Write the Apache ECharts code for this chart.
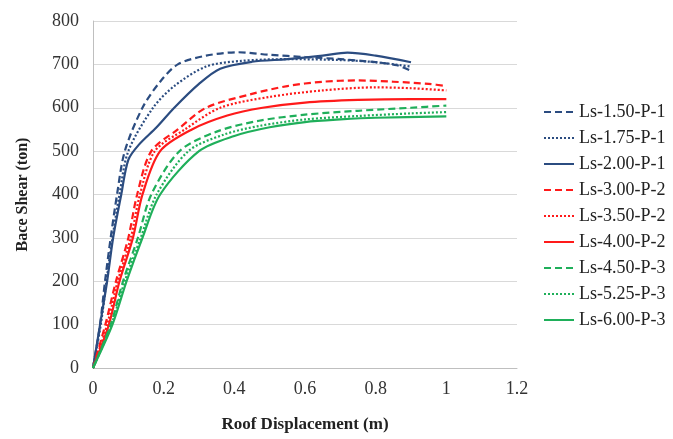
<!DOCTYPE html>
<html><head><meta charset="utf-8">
<script src="https://cdn.jsdelivr.net/npm/echarts@6/dist/echarts.min.js"></script>
<style>html,body{margin:0;padding:0;background:#fff}#c{width:673px;height:439px}</style>
</head><body><div id="c"></div>
<script>
const names = ["Ls-1.50-P-1","Ls-1.75-P-1","Ls-2.00-P-1","Ls-3.00-P-2","Ls-3.50-P-2","Ls-4.00-P-2","Ls-4.50-P-3","Ls-5.25-P-3","Ls-6.00-P-3"];
const xTicks = [0,0.2,0.4,0.6,0.8,1,1.2];
const yTicks = [0,100,200,300,400,500,600,700,800];

const ls150 = [[0,0],[0.02,100],[0.034,200],[0.05,300],[0.068,400],[0.09,500],[0.14,600],[0.19,660],[0.24,700],[0.32,720],[0.41,728],[0.5,722],[0.6,717],[0.7,712],[0.8,705],[0.86,698],[0.9,685]];
const ls175 = [[0,0],[0.022,100],[0.038,200],[0.055,300],[0.075,400],[0.1,500],[0.17,600],[0.23,650],[0.32,695],[0.42,708],[0.55,712],[0.7,710],[0.8,705],[0.9,695]];
const ls200 = [[0,0],[0.02,100],[0.04,200],[0.057,300],[0.08,400],[0.1,480],[0.13,515],[0.18,555],[0.23,600],[0.3,655],[0.36,690],[0.45,706],[0.55,712],[0.65,720],[0.72,727],[0.8,720],[0.9,705]];
const ls300 = [[0,0],[0.035,100],[0.065,200],[0.1,300],[0.125,400],[0.165,500],[0.24,550],[0.32,600],[0.45,632],[0.55,650],[0.65,660],[0.75,663],[0.85,660],[0.95,655],[1.0,650]];
const ls350 = [[0,0],[0.04,100],[0.07,200],[0.107,300],[0.133,400],[0.175,500],[0.26,550],[0.36,600],[0.5,625],[0.65,640],[0.8,647],[0.9,645],[1.0,640]];
const ls400 = [[0,0],[0.045,100],[0.075,200],[0.113,300],[0.14,400],[0.19,500],[0.28,550],[0.38,582],[0.48,600],[0.6,612],[0.75,618],[0.9,620],[1.0,620]];
const ls450 = [[0,0],[0.05,100],[0.085,200],[0.127,300],[0.165,400],[0.245,500],[0.35,545],[0.47,570],[0.6,584],[0.75,593],[0.9,600],[1.0,605]];
const ls525 = [[0,0],[0.052,100],[0.09,200],[0.135,300],[0.18,400],[0.27,500],[0.37,538],[0.47,558],[0.6,573],[0.75,581],[0.9,587],[1.0,590]];
const ls600 = [[0,0],[0.055,100],[0.095,200],[0.14,300],[0.19,400],[0.3,500],[0.4,535],[0.5,555],[0.6,567],[0.7,573],[0.8,577],[1.0,580]];

const dataList = [ls150,ls175,ls200,ls300,ls350,ls400,ls450,ls525,ls600];
const colors = ["#2B4C80","#2B4C80","#2B4C80","#FF1A1A","#FF1A1A","#FF1A1A","#1FAF5A","#1FAF5A","#1FAF5A"];
const types = [[7,4],[2,2],"solid",[7,4],[2,2],"solid",[7,4],[2,2],"solid"];

const font = "Liberation Serif";
function render(){
const chart = echarts.init(document.getElementById('c'));
chart.setOption({
  animation:false,
  textStyle:{fontFamily:font},
  grid:{left:93,right:156,top:21,bottom:71,outerBoundsMode:'none'},
  legend:{
    orient:'vertical', left:543, top:103, padding:0, itemGap:8, itemWidth:30, itemHeight:18,
    itemStyle:{opacity:0},
    textStyle:{fontFamily:font,fontSize:18,color:'#222'},
    data:names
  },
  xAxis:{type:'value',min:0,max:1.2,interval:0.2,
    axisLine:{show:true,lineStyle:{color:'#bfbfbf'}},
    axisTick:{show:false},
    splitLine:{show:false},
    axisLabel:{fontFamily:font,fontSize:18,color:'#333',margin:12,formatter:v=>String(+v.toFixed(1))},
    name:'Roof Displacement (m)',nameLocation:'middle',nameGap:48,
    nameTextStyle:{fontFamily:font,fontSize:17,fontWeight:'bold',color:'#222'}
  },
  yAxis:{type:'value',min:0,max:800,interval:100,
    axisLine:{show:true,lineStyle:{color:'#bfbfbf'}},
    axisTick:{show:false},
    splitLine:{show:true,lineStyle:{color:'#d9d9d9'}},
    axisLabel:{fontFamily:font,fontSize:18,color:'#333',margin:14},
    name:'Bace Shear (ton)',nameLocation:'middle',nameGap:62,
    nameTextStyle:{fontFamily:font,fontSize:16,fontWeight:'bold',color:'#222'}
  },
  series:names.map((n,i)=>({
    name:n,type:'line',data:dataList[i],showSymbol:false,symbol:'none',
    smooth:0.3,
    itemStyle:{color:colors[i]},
    lineStyle:{color:colors[i],width:2.2,type:types[i]}
  }))
});
}
let done=false;
function go(){ if(!done){done=true;render();} }
if (document.fonts && document.fonts.load) {
  Promise.all([
    document.fonts.load('18px "Liberation Serif"'),
    document.fonts.load('bold 17px "Liberation Serif"')
  ]).then(go, go);
  setTimeout(go, 300);
} else { go(); }
</script></body></html>
